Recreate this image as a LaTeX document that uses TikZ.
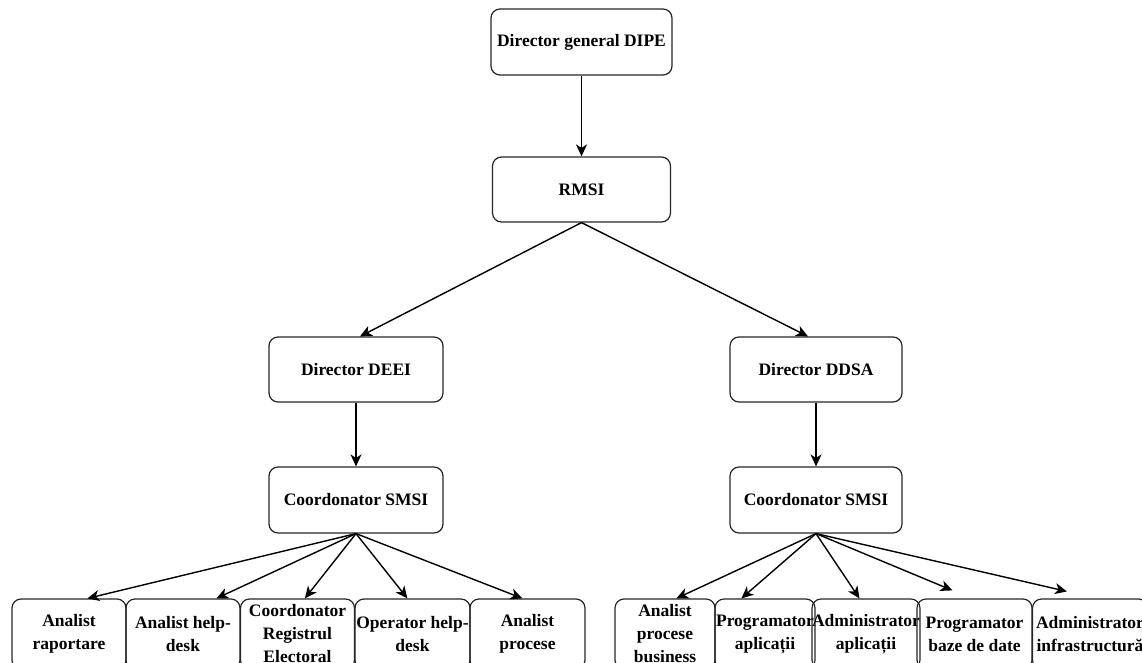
\documentclass[tikz,border=0pt]{standalone}
\usepackage{fontspec}
\setmainfont{Liberation Serif}
\usetikzlibrary{arrows.meta,calc}
\begin{document}
\begin{tikzpicture}[x=1pt,y=-1pt,
  box/.style={draw=black!85,line width=1.2pt,rounded corners=9pt,align=center,
    inner xsep=0pt,inner ysep=0pt,font=\fontsize{17.5}{23}\selectfont\bfseries},
  conn/.style={line width=1.4pt,-{Stealth[length=12pt,width=11pt,inset=3.5pt]}}]
\useasboundingbox (0,0) rectangle (1142,663);
% upper levels
\node[box,minimum width=181pt,minimum height=66pt] (dg) at (581.5,42) {Director general DIPE};
\node[box,minimum width=178pt,minimum height=65pt] (rmsi) at (581.5,189.5) {RMSI};
\node[box,minimum width=174pt,minimum height=65pt] (deei) at (356,369.5) {Director DEEI};
\node[box,minimum width=172pt,minimum height=65pt] (ddsa) at (816,369.5) {Director DDSA};
\node[box,minimum width=174pt,minimum height=66pt] (cl) at (356,500) {Coordonator SMSI};
\node[box,minimum width=172pt,minimum height=66pt] (cr) at (816,500) {Coordonator SMSI};
% bottom left row
\node[box,minimum width=114pt,minimum height=70pt] (l1) at (69,634) {Analist\\raportare};
\node[box,minimum width=114pt,minimum height=70pt] (l2) at (183,634) {Analist help-\\desk};
\node[box,minimum width=114pt,minimum height=70pt] (l3) at (297.5,634) {Coordonator\\Registrul\\Electoral};
\node[box,minimum width=115pt,minimum height=70pt] (l4) at (412.5,634) {Operator help-\\desk};
\node[box,minimum width=115pt,minimum height=70pt] (l5) at (527.5,634) {Analist\\procese};
% bottom right row
\node[box,minimum width=100pt,minimum height=70pt] (r1) at (665,634) {Analist\\procese\\business};
\node[box,minimum width=100pt,minimum height=70pt] (r2) at (765,634) {Programator\\aplicații};
\node[box,minimum width=102pt,minimum height=70pt] (r3) at (866,634) {Administrator\\aplicații};
\node[box,minimum width=115pt,minimum height=70pt] (r4) at (974.5,634) {Programator\\baze de date};
\node[box,minimum width=115pt,minimum height=70pt] (r5) at (1090,634) {Administrator\\infrastructură};
% connectors
\draw[conn] (dg.south) -- (rmsi.north);
\draw[conn] (rmsi.south) -- ([xshift=4pt]deei.north);
\draw[conn] (rmsi.south) -- ([xshift=-8pt]ddsa.north);
\draw[conn] (deei.south) -- (cl.north);
\draw[conn] (ddsa.south) -- (cr.north);
\draw[conn] (cl.south) -- ([xshift=76pt]l1.north west);
\draw[conn] (cl.south) -- ([xshift=91pt]l2.north west);
\draw[conn] (cl.south) -- ([xshift=65pt]l3.north west);
\draw[conn] (cl.south) -- ([xshift=53pt]l4.north west);
\draw[conn] (cl.south) -- ([xshift=53pt]l5.north west);
\draw[conn] (cr.south) -- ([xshift=62pt]r1.north west);
\draw[conn] (cr.south) -- ([xshift=27pt]r2.north west);
\draw[conn] (cr.south) -- ([xshift=48pt]r3.north west);
\draw[conn] (cr.south) -- ([xshift=36pt,yshift=8pt]r4.north west);
\draw[conn] (cr.south) -- ([xshift=35pt,yshift=7pt]r5.north west);
\end{tikzpicture}
\end{document}
